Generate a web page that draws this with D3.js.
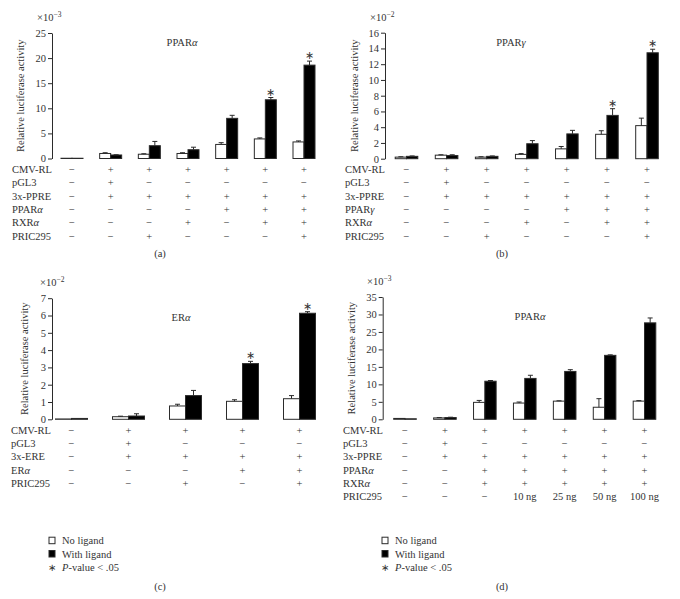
<!DOCTYPE html>
<html><head><meta charset="utf-8">
<script src="https://cdn.jsdelivr.net/npm/d3@7"></script>
<style>body{margin:0;background:#fff}svg{display:block}text{font-family:"Liberation Serif","Times New Roman",serif;fill:#333}</style>
</head><body>
<svg id="chart" width="680" height="599"></svg>
<script>
// ---------- DATA ----------
// Panel (a) PPARα
const aTitle = "PPARα";
const aExponent = "−3";
const aTicks = [0, 5, 10, 15, 20, 25];
const aNoLigand = [0.05, 1.0, 0.85, 1.0, 2.8, 3.9, 3.3];
const aNoLigandErr = [0.0, 0.15, 0.1, 0.15, 0.35, 0.2, 0.2];
const aWithLigand = [0.05, 0.7, 2.55, 1.75, 8.0, 11.7, 18.6];
const aWithLigandErr = [0.0, 0.05, 0.85, 0.5, 0.6, 0.45, 0.8];
const aSignificant = [5, 6];
const aRows = ["CMV-RL", "pGL3", "3x-PPRE", "PPARα", "RXRα", "PRIC295"];
const aTable = [
  ["−", "+", "+", "+", "+", "+", "+"],
  ["−", "+", "−", "−", "−", "−", "−"],
  ["−", "+", "+", "+", "+", "+", "+"],
  ["−", "−", "−", "−", "+", "+", "+"],
  ["−", "−", "−", "+", "−", "+", "+"],
  ["−", "−", "+", "−", "−", "−", "+"]
];
// Panel (b) PPARγ
const bTitle = "PPARγ";
const bExponent = "−2";
const bTicks = [0, 2, 4, 6, 8, 10, 12, 14, 16];
const bNoLigand = [0.2, 0.45, 0.2, 0.55, 1.25, 3.1, 4.2];
const bNoLigandErr = [0.05, 0.05, 0.05, 0.1, 0.3, 0.45, 0.95];
const bWithLigand = [0.3, 0.4, 0.3, 1.9, 3.15, 5.5, 13.45];
const bWithLigandErr = [0.05, 0.1, 0.05, 0.4, 0.45, 0.85, 0.45];
const bSignificant = [5, 6];
const bRows = ["CMV-RL", "pGL3", "3x-PPRE", "PPARγ", "RXRα", "PRIC295"];
const bTable = [
  ["−", "+", "+", "+", "+", "+", "+"],
  ["−", "+", "−", "−", "−", "−", "−"],
  ["−", "+", "+", "+", "+", "+", "+"],
  ["−", "−", "−", "−", "+", "+", "+"],
  ["−", "−", "−", "+", "−", "+", "+"],
  ["−", "−", "+", "−", "−", "−", "+"]
];
// Panel (c) ERα
const cTitle = "ERα";
const cExponent = "−2";
const cTicks = [0, 1, 2, 3, 4, 5, 6, 7];
const cNoLigand = [0.02, 0.15, 0.77, 1.04, 1.19];
const cNoLigandErr = [0.0, 0.03, 0.1, 0.09, 0.18];
const cWithLigand = [0.05, 0.19, 1.37, 3.22, 6.13];
const cWithLigandErr = [0.0, 0.13, 0.3, 0.13, 0.09];
const cSignificant = [3, 4];
const cRows = ["CMV-RL", "pGL3", "3x-ERE", "ERα", "PRIC295"];
const cTable = [
  ["−", "+", "+", "+", "+"],
  ["−", "+", "−", "−", "−"],
  ["−", "+", "+", "+", "+"],
  ["−", "−", "−", "+", "+"],
  ["−", "−", "+", "−", "+"]
];
// Panel (d) PPARα with PRIC295 dose
const dTitle = "PPARα";
const dExponent = "−3";
const dTicks = [0, 5, 10, 15, 20, 25, 30, 35];
const dNoLigand = [0.25, 0.4, 4.85, 4.65, 5.2, 3.45, 5.2];
const dNoLigandErr = [0.0, 0.1, 0.55, 0.3, 0.1, 2.45, 0.15];
const dWithLigand = [0.15, 0.5, 10.9, 11.7, 13.7, 18.3, 27.6];
const dWithLigandErr = [0.0, 0.1, 0.2, 0.9, 0.5, 0.15, 1.4];
const dSignificant = [];
const dRows = ["CMV-RL", "pGL3", "3x-PPRE", "PPARα", "RXRα", "PRIC295"];
const dTable = [
  ["−", "+", "+", "+", "+", "+", "+"],
  ["−", "+", "−", "−", "−", "−", "−"],
  ["−", "+", "+", "+", "+", "+", "+"],
  ["−", "−", "+", "+", "+", "+", "+"],
  ["−", "−", "+", "+", "+", "+", "+"],
  ["−", "−", "−", "10 ng", "25 ng", "50 ng", "100 ng"]
];
const legendLabels = ["No ligand", "With ligand", "P-value < .05"];

// ---------- DRAWING ----------
const svg = d3.select("#chart");
svg.append("rect").attr("width", 680).attr("height", 599).attr("fill", "#fff");
const INK = "#2b2b2b";
const FS = 10.5;

function rich(sel, str) {
  // italicize Greek letters
  const parts = str.split(/([αγ])/).filter(s => s.length);
  parts.forEach(p => {
    const t = sel.append("tspan").text(p);
    if (/[αγ]/.test(p)) t.attr("font-style", "italic");
  });
}

function panel(cfg) {
  const g = svg.append("g");
  const n = cfg.noLig.length;
  const x = d3.scalePoint().domain(d3.range(n)).range(cfg.xr);
  const y = d3.scaleLinear().domain([0, cfg.ticks[cfg.ticks.length - 1]]).range(cfg.yr);
  const bw = cfg.bw;

  const ax = g.append("g").attr("transform", `translate(${cfg.axisX},0)`)
    .call(d3.axisLeft(y).tickValues(cfg.ticks).tickFormat(d3.format("d"))
      .tickSize(4).tickSizeOuter(0).tickPadding(2));
  ax.select(".domain").attr("stroke", INK);
  ax.selectAll(".tick line").attr("stroke", INK);
  ax.selectAll(".tick text").attr("font-size", FS).attr("fill", "#333")
    .attr("font-family", '"Liberation Serif", serif');

  // exponent
  const ex = g.append("text").attr("x", cfg.expX).attr("y", cfg.yr[1] - 12).attr("font-size", FS);
  ex.append("tspan").text("×10");
  ex.append("tspan").attr("font-size", 7.5).attr("dy", -4).text(cfg.exp);

  // y label
  g.append("text").attr("transform", `translate(${cfg.labelX},${(cfg.yr[0] + cfg.yr[1]) / 2}) rotate(-90)`)
    .attr("text-anchor", "middle").attr("font-size", FS).text("Relative luciferase activity");

  // title
  const tt = g.append("text").attr("x", cfg.titleX).attr("y", cfg.titleY).attr("text-anchor", "middle").attr("font-size", FS);
  rich(tt, cfg.title);

  // bars
  const series = [
    { vals: cfg.noLig, err: cfg.noErr, fill: "#fff", off: -bw },
    { vals: cfg.withLig, err: cfg.withErr, fill: "#000", off: 0 }
  ];
  series.forEach(s => {
    g.selectAll(null).data(s.vals).enter().append("rect")
      .attr("x", (d, i) => x(i) + s.off)
      .attr("y", d => y(d))
      .attr("width", bw)
      .attr("height", d => y(0) - y(d))
      .attr("fill", s.fill).attr("stroke", INK).attr("stroke-width", 1);
    const eb = g.selectAll(null).data(s.vals.map((v, i) => ({ v, e: s.err[i], i })).filter(d => d.e > 0)).enter().append("g");
    eb.append("line").attr("x1", d => x(d.i) + s.off + bw / 2).attr("x2", d => x(d.i) + s.off + bw / 2)
      .attr("y1", d => y(d.v)).attr("y2", d => y(d.v + d.e)).attr("stroke", INK).attr("stroke-width", 1);
    eb.append("line").attr("x1", d => x(d.i) + s.off + bw / 2 - 2.5).attr("x2", d => x(d.i) + s.off + bw / 2 + 2.5)
      .attr("y1", d => y(d.v + d.e)).attr("y2", d => y(d.v + d.e)).attr("stroke", INK).attr("stroke-width", 1);
  });
  // significance
  g.selectAll(null).data(cfg.sig).enter().append("text")
    .attr("x", i => x(i) + bw / 2).attr("y", i => y(cfg.withLig[i] + cfg.withErr[i]) - 2)
    .attr("text-anchor", "middle").attr("font-size", 11).attr("fill", "#555").text("∗");

  // table
  cfg.rows.forEach((r, ri) => {
    const yy = cfg.tableY + ri * 13.35;
    const lt = g.append("text").attr("x", cfg.rowX).attr("y", yy + 3.7).attr("font-size", FS);
    rich(lt, r);
    cfg.table[ri].forEach((c, ci) => {
      g.append("text").attr("x", x(ci)).attr("y", yy + 3.7).attr("text-anchor", "middle")
        .attr("font-size", FS).attr("fill", c.length > 1 ? "#333" : "#555").text(c);
    });
  });

  // panel letter
  g.append("text").attr("x", cfg.letterX).attr("y", cfg.letterY).attr("text-anchor", "middle")
    .attr("font-size", FS).text(cfg.letter);

  // legend
  if (cfg.legend) {
    const [lx, ly] = cfg.legend;
    const lg = g.append("g");
    lg.append("rect").attr("x", lx).attr("y", ly - 3.5).attr("width", 6).attr("height", 6.5)
      .attr("fill", "#fff").attr("stroke", INK);
    lg.append("rect").attr("x", lx).attr("y", ly + 9.8).attr("width", 6).attr("height", 6.5)
      .attr("fill", "#000").attr("stroke", INK);
    lg.append("text").attr("x", lx + 13).attr("y", ly + 3.7).attr("font-size", FS).text(legendLabels[0]);
    lg.append("text").attr("x", lx + 13).attr("y", ly + 17).attr("font-size", FS).text(legendLabels[1]);
    lg.append("text").attr("x", lx + 3).attr("y", ly + 30).attr("text-anchor", "middle").attr("font-size", 10).attr("fill", "#555").text("∗");
    const pv = lg.append("text").attr("x", lx + 13).attr("y", ly + 30.3).attr("font-size", FS);
    pv.append("tspan").attr("font-style", "italic").text(legendLabels[2].slice(0, 1));
    pv.append("tspan").text(legendLabels[2].slice(1));
  }
}

panel({ noLig: aNoLigand, noErr: aNoLigandErr, withLig: aWithLigand, withErr: aWithLigandErr, sig: aSignificant,
  ticks: aTicks, exp: aExponent, title: aTitle, rows: aRows, table: aTable,
  xr: [72, 304], yr: [158.5, 33], bw: 11, axisX: 52, expX: 37, labelX: 24, titleX: 182, titleY: 46,
  tableY: 169.3, rowX: 12, letter: "(a)", letterX: 160, letterY: 257 });
panel({ noLig: bNoLigand, noErr: bNoLigandErr, withLig: bWithLigand, withErr: bWithLigandErr, sig: bSignificant,
  ticks: bTicks, exp: bExponent, title: bTitle, rows: bRows, table: bTable,
  xr: [406.5, 647], yr: [158.7, 32.7], bw: 11.3, axisX: 385, expX: 370, labelX: 358, titleX: 511, titleY: 46,
  tableY: 169.3, rowX: 345, letter: "(b)", letterX: 502, letterY: 257 });
panel({ noLig: cNoLigand, noErr: cNoLigandErr, withLig: cWithLigand, withErr: cWithLigandErr, sig: cSignificant,
  ticks: cTicks, exp: cExponent, title: cTitle, rows: cRows, table: cTable,
  xr: [71.5, 299.5], yr: [419.3, 298.2], bw: 16, axisX: 52, expX: 40, labelX: 28, titleX: 181, titleY: 321,
  tableY: 430, rowX: 11, letter: "(c)", letterX: 160, letterY: 590, legend: [49, 540.7] });
panel({ noLig: dNoLigand, noErr: dNoLigandErr, withLig: dWithLigand, withErr: dWithLigandErr, sig: dSignificant,
  ticks: dTicks, exp: dExponent, title: dTitle, rows: dRows, table: dTable,
  xr: [405, 644.5], yr: [419.3, 297], bw: 11.3, axisX: 382.7, expX: 367, labelX: 355, titleX: 530, titleY: 320,
  tableY: 430, rowX: 343, letter: "(d)", letterX: 502, letterY: 590, legend: [382, 540.7] });
</script>
</body></html>
